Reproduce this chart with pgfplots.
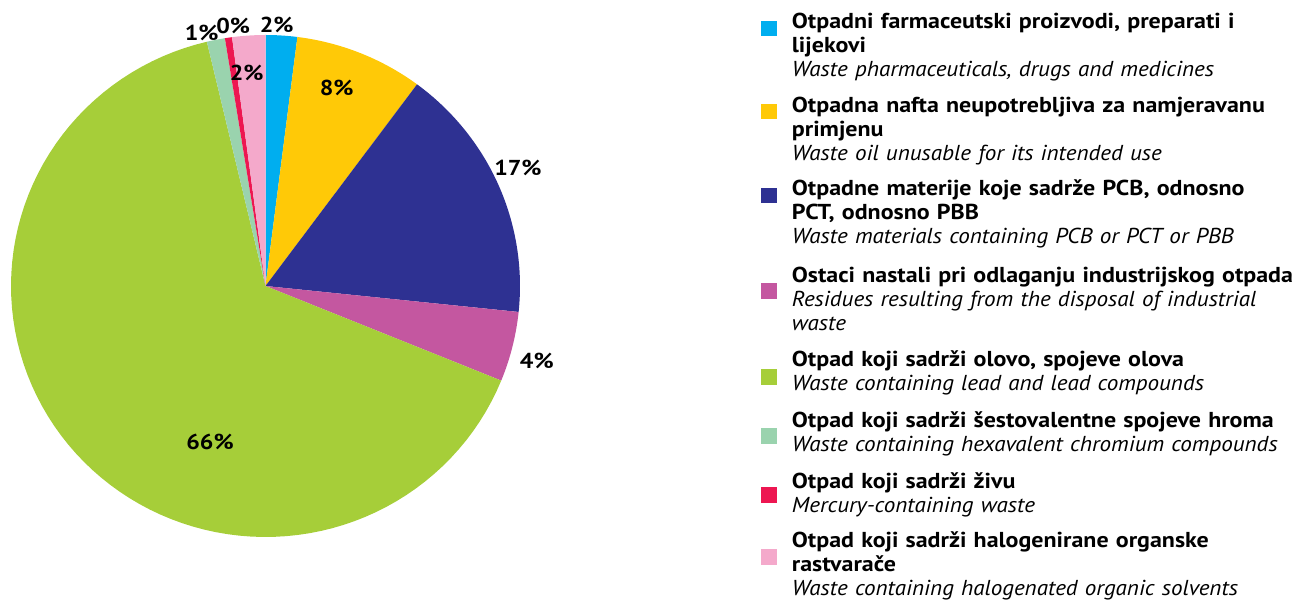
\documentclass[border=0pt]{standalone}
\usepackage{fontspec}
\setmainfont{PT Sans}[BoldFont={PT Sans Bold}, BoldFeatures={FakeStretch=1.11},
  ItalicFeatures={FakeStretch=1.07}]
\usepackage{pgfplots}
\usepackage{pgfplotstable}
\pgfplotsset{compat=1.18}

\definecolor{cBlue}{HTML}{00AEEF}
\definecolor{cYellow}{HTML}{FFC907}
\definecolor{cNavy}{HTML}{2E3192}
\definecolor{cMagenta}{HTML}{C457A0}
\definecolor{cGreen}{HTML}{A6CE39}
\definecolor{cMint}{HTML}{9AD3AE}
\definecolor{cRed}{HTML}{ED1651}
\definecolor{cPink}{HTML}{F4A9CB}

% shares in percent, clockwise from 12 o'clock
\pgfplotstableread{
share
2.0
8.15
16.5
4.5
65.15
1.15
0.45
2.1
}\piedata

\newcommand\lfont{\fontsize{10.8}{12.15}\selectfont}

% one wedge per table row, angles built from the running sum
\newcommand\pieslice[2]{%
  \pgfplotstablegetelem{#1}{share}\of\piedata
  \pgfmathsetmacro\aHi{90-3.6*\cumshare}%
  \pgfmathsetmacro\aLo{90-3.6*(\cumshare+\pgfplotsretval)}%
  \pgfmathsetmacro\newcum{\cumshare+\pgfplotsretval}%
  \xdef\cumshare{\newcum}%
  \edef\doslice{\noexpand\addplot[fill=#2, draw=none, forget plot,
    domain=\aLo:\aHi, samples=90, variable=\noexpand\t]
    ({cos(\noexpand\t)}, {sin(\noexpand\t)}) -- (axis cs:0,0) -- cycle;}%
  \doslice
}
% legend swatch, #2 = top edge relative to the first baseline
\newcommand\legsq[2]{\addlegendimage{legend image code/.code={%
  \fill[#1] (0pt,#2) rectangle ++(7.25pt,-7.25pt);}}}

\begin{document}
\begin{tikzpicture}
\gdef\cumshare{0}
\begin{axis}[
  at={(0,0)}, anchor=center,
  width=254.5pt, height=251pt, scale only axis,
  xmin=-1, xmax=1, ymin=-1, ymax=1,
  hide axis, clip=false,
  legend style={at={(1.4735,1.0504)}, anchor=north west,
    draw=none, fill=none, inner sep=0pt, row sep=0pt, column sep=7.6pt,
    cells={anchor=base west},
    nodes={inner sep=0pt, text depth=, text width=262pt, align=left, font=\lfont}},
]
  \pieslice{0}{cBlue}
  \pieslice{1}{cYellow}
  \pieslice{2}{cNavy}
  \pieslice{3}{cMagenta}
  \pieslice{4}{cGreen}
  \pieslice{5}{cMint}
  \pieslice{6}{cRed}
  \pieslice{7}{cPink}

  \legsq{cBlue}{3.375pt}
  \addlegendentry{\rule{0pt}{9pt}\textbf{Otpadni farmaceutski proizvodi, preparati i}\\
    \textbf{lijekovi}\\\textit{Waste pharmaceuticals, drugs and medicines}\rule[-8.7pt]{0pt}{8.7pt}}
  \legsq{cYellow}{3.875pt}
  \addlegendentry{\rule{0pt}{9pt}\textbf{Otpadna nafta neupotrebljiva za namjeravanu}\\
    \textbf{primjenu}\\\textit{Waste oil unusable for its intended use}\rule[-8.35pt]{0pt}{8.35pt}}
  \legsq{cNavy}{3.625pt}
  \addlegendentry{\rule{0pt}{9pt}\textbf{Otpadne materije koje sadrže PCB, odnosno}\\
    \textbf{PCT, odnosno PBB}\\\textit{Waste materials containing PCB or PCT or PBB}\rule[-10.05pt]{0pt}{10.05pt}}
  \legsq{cMagenta}{-0.775pt}
  \addlegendentry{\rule{0pt}{9pt}\textbf{Ostaci nastali pri odlaganju industrijskog otpada}\\
    \textit{Residues resulting from the disposal of industrial}\\\textit{waste}\rule[-8.7pt]{0pt}{8.7pt}}
  \legsq{cGreen}{-1.775pt}
  \addlegendentry{\rule{0pt}{9pt}\textbf{Otpad koji sadrži olovo, spojeve olova}\\
    \textit{Waste containing lead and lead compounds}\rule[-9.35pt]{0pt}{9.35pt}}
  \legsq{cMint}{-0.775pt}
  \addlegendentry{\rule{0pt}{9pt}\textbf{Otpad koji sadrži šestovalentne spojeve hroma}\\
    \textit{Waste containing hexavalent chromium compounds}\rule[-9.65pt]{0pt}{9.65pt}}
  \legsq{cRed}{0.525pt}
  \addlegendentry{\rule{0pt}{9pt}\textbf{Otpad koji sadrži živu}\\
    \textit{Mercury-containing waste}\rule[-8.05pt]{0pt}{8.05pt}}
  \legsq{cPink}{-1.375pt}
  \addlegendentry{\rule{0pt}{9pt}\textbf{Otpad koji sadrži halogenirane organske}\\
    \textbf{rastvarače}\\\textit{Waste containing halogenated organic solvents}}

  \begin{scope}[every node/.style={font=\lfont\bfseries}]
    \node at (axis cs:0.044,1.040) {2\%};
    \node at (axis cs:-0.127,1.036) {0\%};
    \node at (axis cs:-0.251,1.007) {1\%};
    \node at (axis cs:-0.074,0.850) {2\%};
    \node at (axis cs:0.280,0.788) {8\%};
    \node at (axis cs:0.992,0.470) {17\%};
    \node at (axis cs:1.066,-0.299) {4\%};
    \node at (axis cs:-0.218,-0.622) {66\%};
  \end{scope}
\end{axis}
\pgfresetboundingbox
\useasboundingbox (-132.75pt,-158.5pt) rectangle (517.75pt,143pt);
\end{tikzpicture}
\end{document}
